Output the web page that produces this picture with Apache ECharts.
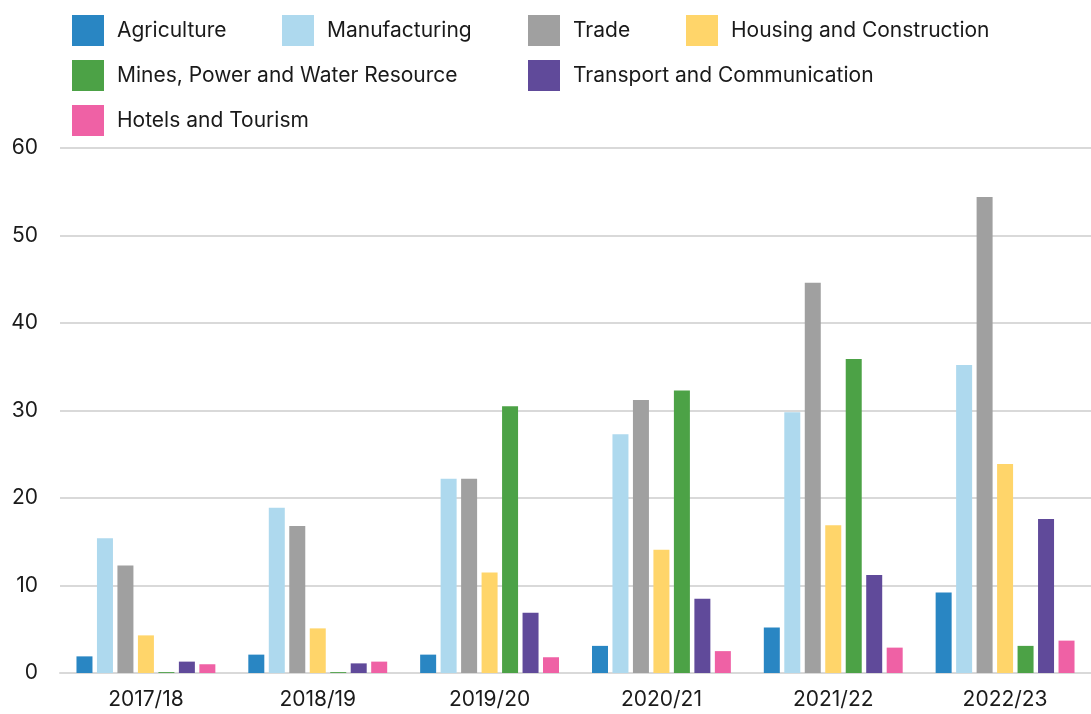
<!DOCTYPE html>
<html>
<head>
<meta charset="utf-8">
<script src="https://cdn.jsdelivr.net/npm/echarts@6/dist/echarts.min.js"></script>
<style>
  html, body { margin: 0; padding: 0; background: #ffffff; }
  #chart { width: 1091px; height: 714px; }
</style>
</head>
<body>
<div id="chart"></div>
<script>
// Fiscal years on the category axis
const years = ['2017/18', '2018/19', '2019/20', '2020/21', '2021/22', '2022/23'];

// Sector names shown in the legend
const sectors = [
  'Agriculture',
  'Manufacturing',
  'Trade',
  'Housing and Construction',
  'Mines, Power and Water Resource',
  'Transport and Communication',
  'Hotels and Tourism'
];

// Values per sector, one per fiscal year
const agriculture   = [1.9, 2.1, 2.1, 3.1, 5.2, 9.2];
const manufacturing = [15.4, 18.9, 22.2, 27.3, 29.8, 35.2];
const trade         = [12.3, 16.8, 22.2, 31.2, 44.6, 54.4];
const housing       = [4.3, 5.1, 11.5, 14.1, 16.9, 23.9];
const mines         = [0.1, 0.1, 30.5, 32.3, 35.9, 3.1];
const transport     = [1.3, 1.1, 6.9, 8.5, 11.2, 17.6];
const hotels        = [1.0, 1.3, 1.8, 2.5, 2.9, 3.7];

// Value axis ticks
const yMin = 0, yMax = 60, yStep = 10;

const seriesValues = [agriculture, manufacturing, trade, housing, mines, transport, hotels];
const colors = ['#2986c3', '#aed9ee', '#a0a0a0', '#ffd56a', '#4ca246', '#604a9a', '#ef61a5'];

const FONT = 'Inter';
const TEXT = '#1a1a1a';

// Legend entries sit in three wrapped rows; each entry gets its own slot
const legendSlots = [
  [72, 15], [282, 15], [528, 15], [686, 15],
  [72, 60], [528, 60],
  [72, 105]
];

const chart = echarts.init(document.getElementById('chart'), null, { renderer: 'canvas' });

chart.setOption({
  animation: false,
  color: colors,
  textStyle: { fontFamily: FONT },
  legend: sectors.map((name, i) => ({
    left: legendSlots[i][0],
    top: legendSlots[i][1],
    padding: 0,
    itemWidth: 32,
    itemHeight: 31,
    icon: 'rect',
    data: [name],
    textStyle: {
      fontFamily: FONT,
      fontSize: 21,
      color: TEXT,
      padding: [4, 0, 0, 8]
    }
  })),
  grid: {
    left: 60,
    right: 0,
    top: 148,
    bottom: 41,
    containLabel: false
  },
  xAxis: {
    type: 'category',
    data: years,
    axisLine: { show: true, lineStyle: { color: '#d9d9d9', width: 2 } },
    axisTick: { show: false },
    axisLabel: { fontFamily: FONT, fontSize: 21, color: TEXT, margin: 16 }
  },
  yAxis: {
    type: 'value',
    min: yMin,
    max: yMax,
    interval: yStep,
    axisLine: { show: false },
    axisTick: { show: false },
    splitLine: { lineStyle: { color: '#d9d9d9', width: 2 } },
    axisLabel: { fontFamily: FONT, fontSize: 21, color: TEXT, margin: 22 }
  },
  series: sectors.map((name, i) => ({
    name: name,
    type: 'bar',
    data: seriesValues[i],
    barWidth: 16,
    barGap: '28%',
    itemStyle: { color: colors[i] }
  }))
});
</script>
</body>
</html>
